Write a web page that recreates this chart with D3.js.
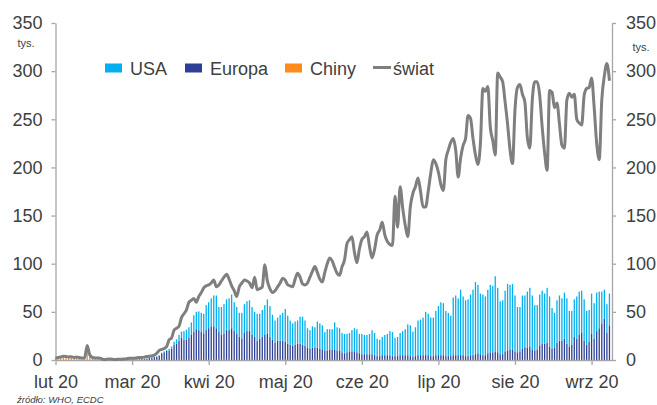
<!DOCTYPE html>
<html>
<head>
<meta charset="utf-8">
<script src="https://cdn.jsdelivr.net/npm/d3@7"></script>
<style>
  body { margin: 0; background: #fff; }
  svg text { font-family: Arial, "Liberation Sans", sans-serif; fill: #404040; }
</style>
</head>
<body>
<div id="chart"></div>
<script>
// daily new cases, thousands, from 1 Feb 2020 to 8 Sep 2020
var startDay = "2020-02-01";
var monthLabels = ["lut 20", "mar 20", "kwi 20", "maj 20", "cze 20", "lip 20", "sie 20", "wrz 20"];
var yTicks = [0, 50, 100, 150, 200, 250, 300, 350];
var seriesNames = ["USA", "Europa", "Chiny", "świat"];

var world = [
  // lut
  2.1, 2.6, 3.2, 3.9, 3.7, 3.2, 3.4, 2.7, 3.0, 2.5, 2.0, 2.0, 15.1, 5.1, 2.6, 2.1, 2.0, 1.9, 0.6, 0.6,
  1.0, 1.0, 0.6, 0.5, 0.9, 0.9, 1.1, 1.4, 1.8,
  // mar
  1.8, 1.9, 2.3, 2.5, 2.6, 3.0, 3.6, 4.0, 4.2, 5.0, 7.0, 10.0, 11.0, 12.0, 14.0, 21.0, 23.0, 31.0, 33.0, 35.0,
  44.0, 48.0, 52.0, 60.0, 62.0, 64.0, 60.0, 66.0, 70.0, 75.0, 77.0,
  // kwi
  78, 80, 83, 76, 78, 82, 86, 89, 84, 77, 72, 66, 76, 80, 83, 82, 80, 75, 86, 73,
  74, 76, 99, 82, 74, 70, 72, 76, 80, 85,
  // maj
  83, 78, 77, 76, 84, 90, 86, 79, 78, 80, 86, 92, 97, 91, 84, 81, 91, 100, 106, 103,
  96, 90, 88, 97, 104, 121, 125, 128, 112, 101, 115,
  // cze
  125, 128, 133, 118, 106, 115, 130, 135, 143, 130, 123, 120, 119, 170, 138, 180, 158, 140, 128, 159,
  173, 180, 189, 175, 159, 159, 175, 194, 208, 204,
  // lip
  195, 182, 176, 208, 218, 226, 230, 218, 190, 210, 223, 230, 254, 251, 230, 213, 203, 225, 282, 279,
  284, 242, 228, 213, 298, 294, 289, 268, 245, 218, 204,
  // sie
  260, 283, 286, 276, 268, 231, 220, 270, 289, 289, 275, 242, 215, 197, 280, 278, 262, 267, 245, 223,
  220, 270, 277, 273, 276, 250, 246, 244, 275, 282, 283,
  // wrz
  293, 263, 225, 208, 270, 295, 308, 290
];

var usa = [
  0, 0, 0, 0, 0, 0, 0, 0, 0, 0, 0, 0, 0, 0, 0, 0, 0, 0, 0, 0,
  0, 0, 0, 0, 0, 0, 0, 0, 0,
  0, 0, 0, 0, 0.1, 0.1, 0.1, 0.1, 0.2, 0.3, 0.4, 0.5, 0.6, 0.9, 1.0, 1.6, 2.0, 3.0, 4.5, 6.2,
  6.5, 9.0, 10.5, 11.0, 13.0, 17.5, 18.0, 19.5, 20.0, 21.0, 26.0,
  27, 29, 32, 34, 26, 29, 31, 32, 33, 35, 30, 28, 25, 27, 30, 31, 32, 29, 26, 28,
  26, 28, 31, 36, 32, 26, 23, 24, 27, 29,
  34, 29, 25, 23, 24, 24, 28, 29, 26, 20, 19, 22, 21, 27, 26, 25, 19, 22, 21, 21,
  28, 24, 23, 20, 20, 19, 19, 22, 24, 24, 20,
  21, 20, 20, 21, 25, 23, 18, 17, 19, 21, 22, 25, 25, 19, 20, 23, 25, 27, 32, 32,
  26, 30, 36, 37, 39, 45, 43, 40, 40, 46,
  51, 55, 54, 47, 45, 42, 60, 62, 59, 68, 61, 58, 59, 63, 68, 75, 71, 63, 63, 61,
  66, 70, 69, 78, 67, 55, 56, 63, 69, 67, 68,
  58, 47, 46, 55, 54, 58, 61, 56, 47, 46, 53, 55, 52, 57, 52, 42, 36, 44, 47, 44,
  48, 47, 37, 35, 39, 44, 45, 44, 43, 35, 33,
  42, 37, 40, 38, 33, 30, 30, 33
];

var europe = [
  0, 0, 0, 0, 0, 0, 0, 0, 0, 0, 0, 0, 0, 0, 0, 0, 0, 0, 0, 0,
  0, 0, 0, 0, 0.1, 0.1, 0.2, 0.3, 0.3,
  0.4, 0.5, 0.6, 0.8, 1.0, 1.3, 1.5, 2.5, 2.5, 3.0, 3.5, 4.5, 7.0, 8.0, 9.5, 10.0, 12.0, 16.0, 17.0, 20.0,
  23.0, 21.0, 21.0, 23.0, 26.0, 29.0, 32.0, 31.0, 29.0, 27.0, 31.0,
  33, 35, 35, 33, 29, 26, 27, 31, 31, 33, 30, 27, 24, 22, 28, 30, 30, 26, 24, 20,
  22, 24, 26, 27, 24, 21, 18, 20, 20, 20,
  19, 17, 16, 15, 16, 17, 17, 16, 15, 13, 12, 13, 13, 13, 12, 11, 10, 10, 11, 11,
  11, 10, 10, 8, 7, 8, 9, 9, 9, 8, 7,
  6, 6, 6, 6, 6, 5, 4, 4, 5, 5, 5, 5, 4, 4, 4, 5, 5, 5, 5, 4,
  3.5, 4, 5, 5, 5, 5, 5, 4, 4, 5,
  5, 5, 5, 4, 4, 4, 5, 5, 5, 5, 5, 4, 4, 5, 5, 6, 7, 6, 5, 5,
  7, 8, 8, 9, 8, 6, 6, 9, 10, 11, 11,
  9, 8, 9, 12, 13, 13, 14, 11, 10, 11, 15, 17, 17, 18, 14, 12, 13, 18, 20, 20,
  22, 17, 14, 16, 24, 22, 26, 28, 20, 16, 19,
  27, 22, 30, 33, 38, 43, 28, 36
];

var china = [
  2.0, 2.5, 3.1, 3.8, 3.6, 3.1, 3.3, 2.6, 2.9, 2.4, 1.9, 1.9, 15.1, 5.0, 2.6, 2.0, 1.9, 1.8, 0.4, 0.4,
  0.9, 0.4, 0.6, 0.4, 0.5, 0.4, 0.4, 0.3, 0.4,
  0.2, 0.1, 0.1, 0.1, 0.1, 0.1, 0, 0, 0, 0, 0, 0, 0, 0, 0, 0, 0, 0, 0, 0,
  0, 0, 0, 0, 0, 0, 0, 0, 0, 0, 0,
  0, 0, 0, 0, 0, 0, 0, 0, 0, 0, 0, 0, 0, 0, 0, 0, 0, 0, 0, 0,
  0, 0, 0, 0, 0, 0, 0, 0, 0, 0,
  0, 0, 0, 0, 0, 0, 0, 0, 0, 0, 0, 0, 0, 0, 0, 0, 0, 0, 0, 0,
  0, 0, 0, 0, 0, 0, 0, 0, 0, 0, 0,
  0, 0, 0, 0, 0, 0, 0, 0, 0, 0, 0, 0, 0, 0, 0, 0, 0, 0, 0, 0,
  0, 0, 0, 0, 0, 0, 0, 0, 0, 0,
  0, 0, 0, 0, 0, 0, 0, 0, 0, 0, 0, 0, 0, 0, 0, 0, 0, 0, 0, 0,
  0, 0, 0, 0, 0, 0, 0, 0, 0, 0, 0,
  0, 0, 0, 0, 0, 0, 0, 0, 0, 0, 0, 0, 0, 0, 0, 0, 0, 0, 0, 0,
  0, 0, 0, 0, 0, 0, 0, 0, 0, 0, 0,
  0, 0, 0, 0, 0, 0, 0, 0
];

var colors = {USA: "#00b0f0", Europa: "#2e4095", Chiny: "#ff8c1a", "świat": "#7f7f7f"};

var width = 657, height = 405;
var plotLeft = 55.5, plotRight = 612, plotTop = 23, plotBottom = 360;
var axisColor = "#a6a6a6";

var svg = d3.select("#chart")
  .append("svg")
    .attr("width", width)
    .attr("height", height);

var start = d3.timeParse("%Y-%m-%d")(startDay);
var days = d3.timeDay.range(start, d3.timeDay.offset(start, world.length));
var endDay = d3.timeDay.offset(days[days.length - 1], 1);
var months = d3.timeMonth.range(start, endDay);
var lastM = months[months.length - 1];
var frac = (endDay - lastM) / (d3.timeMonth.offset(lastM, 1) - lastM);
var monthW = (plotRight - plotLeft) / (months.length - 1 + frac);

// months are equally spaced on the axis
var x = d3.scaleTime()
  .domain(months.concat([endDay]))
  .range(months.map(function(m, i) { return plotLeft + i * monthW; }).concat([plotRight]));

var y = d3.scaleLinear()
  .domain([0, 350])
  .range([plotBottom, plotTop]);

var rows = days.map(function(d, i) {
  return {date: d, Chiny: china[i], Europa: europe[i], USA: usa[i], "świat": world[i]};
});

var stack = d3.stack().keys(["Chiny", "Europa", "USA"])(rows);
var barW = 1.3;

svg.append("g")
  .selectAll("g")
  .data(stack)
  .enter()
  .append("g")
    .attr("fill", function(s) { return colors[s.key]; })
  .selectAll("rect")
  .data(function(s) { return s; })
  .enter()
  .append("rect")
    .attr("x", function(d) { return x(d.data.date) - barW / 2; })
    .attr("width", barW)
    .attr("y", function(d) { return y(d[1]); })
    .attr("height", function(d) { return Math.max(0, y(d[0]) - y(d[1])); });

// axes
function styleAxis(g) {
  g.select(".domain").attr("stroke", axisColor).attr("stroke-width", 1.3);
  g.selectAll(".tick line").attr("stroke", axisColor).attr("stroke-width", 1.3);
  g.selectAll(".tick text").style("font-size", "18px").attr("fill", "#404040");
}

svg.append("g")
  .attr("transform", "translate(" + plotLeft + ",0)")
  .call(d3.axisLeft(y).tickValues(yTicks).tickSize(4).tickPadding(9).tickSizeOuter(0))
  .call(styleAxis);

svg.append("g")
  .attr("transform", "translate(" + plotRight + ",0)")
  .call(d3.axisRight(y).tickValues(yTicks).tickSize(4).tickPadding(10).tickSizeOuter(0))
  .call(styleAxis);

svg.append("g")
  .attr("transform", "translate(0," + plotBottom + ")")
  .call(d3.axisBottom(x).tickValues(months)
    .tickFormat(function(d, i) { return monthLabels[i]; })
    .tickSize(5).tickPadding(10).tickSizeOuter(0))
  .call(styleAxis);

// world line
var line = d3.line()
  .x(function(d) { return x(d.date); })
  .y(function(d) { return y(d["świat"]); })
  .curve(d3.curveMonotoneX);

svg.append("path")
  .datum(rows)
  .attr("fill", "none")
  .attr("stroke", colors["świat"])
  .attr("stroke-width", 3)
  .attr("stroke-linejoin", "round")
  .attr("d", line);

// unit labels
svg.append("text").attr("x", 26).attr("y", 47).attr("text-anchor", "middle")
  .style("font-size", "11px").text("tys.");
svg.append("text").attr("x", 641).attr("y", 51).attr("text-anchor", "middle")
  .style("font-size", "11px").text("tys.");

// legend
var legendX = [105, 185, 285, 373];
var legend = svg.append("g");
seriesNames.forEach(function(name, i) {
  if (name === "świat") {
    legend.append("line")
      .attr("x1", legendX[i]).attr("x2", legendX[i] + 18)
      .attr("y1", 67.5).attr("y2", 67.5)
      .attr("stroke", colors[name]).attr("stroke-width", 3);
    legend.append("text").attr("x", legendX[i] + 20).attr("y", 74.5)
      .style("font-size", "18px").text(name);
  } else {
    legend.append("rect")
      .attr("x", legendX[i]).attr("y", 63.5)
      .attr("width", 17).attr("height", 9)
      .attr("fill", colors[name]);
    legend.append("text").attr("x", legendX[i] + 25).attr("y", 74.5)
      .style("font-size", "18px").text(name);
  }
});

// source
svg.append("text")
  .attr("x", 17).attr("y", 403)
  .style("font-size", "9.5px").style("font-style", "italic")
  .text("źródło: WHO, ECDC");
</script>
</body>
</html>
